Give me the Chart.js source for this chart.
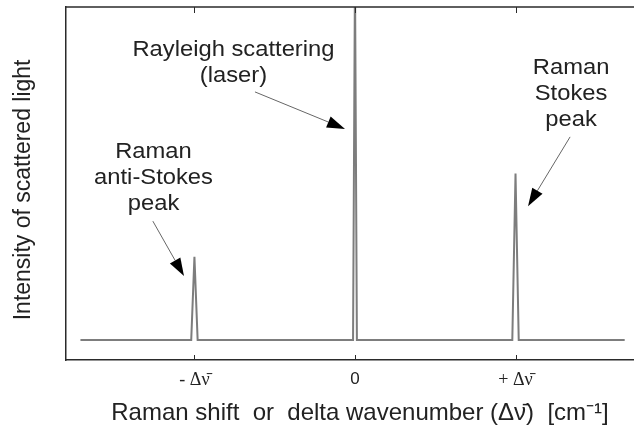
<!DOCTYPE html>
<html>
<head>
<meta charset="utf-8">
<script src="https://cdn.jsdelivr.net/npm/chart.js@4/dist/chart.umd.min.js"></script>
<style>
  html, body { margin: 0; padding: 0; background: #fff; }
  #wrap { width: 634px; height: 434px; }
</style>
</head>
<body>
<div id="wrap"><canvas id="ramanChart" width="634" height="434"></canvas></div>
<script>
// Raman spectrum sketch: shift (in units of delta nu) vs intensity
const shiftX = [-1.71, -1.02, -1.0, -0.98, -0.012, 0.0, 0.012, 0.98, 1.0, 1.02, 1.68];
const intensity = [0, 0, 25, 0, 0, 110, 0, 0, 50, 0, 0];
const tickValues = [-1, 0, 1];
const tickLabels = ['- \u0394\u03BD\u0304', '0', '+ \u0394\u03BD\u0304'];

// annotation labels: [x, y of first baseline, lines]
const notes = [
    { x: -0.757, y: 85.3, lines: ['Rayleigh scattering', '(laser)'] },
    { x: 1.346, y: 79.9, lines: ['Raman', 'Stokes', 'peak'] },
    { x: -1.255, y: 54.7, lines: ['Raman', 'anti-Stokes', 'peak'] }
];
// arrows: from (x0,y0) to tip (x1,y1)
const arrows = [
    [-0.623, 74.5, -0.062, 63.4],
    [1.340, 61.0, 1.078, 40.2],
    [-1.259, 35.7, -1.065, 19.2]
];

const points = shiftX.map((x, i) => ({ x: x, y: intensity[i] }));
const frameColor = '#2a2a2a';

const decorPlugin = {
    id: 'decor',
    afterDatasetsDraw(chart) {
        const ctx = chart.ctx;
        const xs = chart.scales.x, ys = chart.scales.y;
        const area = chart.chartArea;
        ctx.save();
        // top frame line
        ctx.strokeStyle = frameColor;
        ctx.lineWidth = 1.5;
        ctx.beginPath();
        ctx.moveTo(area.left, area.top);
        ctx.lineTo(area.right, area.top);
        ctx.stroke();
        // inward tick marks
        ctx.lineWidth = 1;
        tickValues.forEach(v => {
            const px = Math.round(xs.getPixelForValue(v)) + 0.5;
            ctx.beginPath();
            ctx.moveTo(px, area.bottom);
            ctx.lineTo(px, area.bottom - 5);
            ctx.moveTo(px, area.top);
            ctx.lineTo(px, area.top + 6);
            ctx.stroke();
        });
        // arrows
        arrows.forEach(a => {
            const x0 = xs.getPixelForValue(a[0]), y0 = ys.getPixelForValue(a[1]);
            const x1 = xs.getPixelForValue(a[2]), y1 = ys.getPixelForValue(a[3]);
            const ang = Math.atan2(y1 - y0, x1 - x0);
            const hl = 18, hw = 6;
            const bx = x1 - hl * Math.cos(ang), by = y1 - hl * Math.sin(ang);
            ctx.strokeStyle = '#666';
            ctx.lineWidth = 1;
            ctx.beginPath();
            ctx.moveTo(x0, y0);
            ctx.lineTo(bx, by);
            ctx.stroke();
            ctx.fillStyle = '#000';
            ctx.beginPath();
            ctx.moveTo(x1, y1);
            ctx.lineTo(bx + hw * Math.sin(ang), by - hw * Math.cos(ang));
            ctx.lineTo(bx - hw * Math.sin(ang), by + hw * Math.cos(ang));
            ctx.closePath();
            ctx.fill();
        });
        // labels
        ctx.fillStyle = '#222';
        ctx.font = '22px "Liberation Sans", Arial, sans-serif';
        ctx.textAlign = 'center';
        ctx.textBaseline = 'alphabetic';
        notes.forEach(n => {
            const cx = xs.getPixelForValue(n.x);
            const cy = ys.getPixelForValue(n.y);
            n.lines.forEach((t, i) => {
                ctx.save();
                ctx.translate(cx, cy + i * 26);
                ctx.scale(1.08, 1);
                ctx.fillText(t, 0, 0);
                ctx.restore();
            });
        });
        ctx.restore();
    }
};

new Chart(document.getElementById('ramanChart').getContext('2d'), {
    type: 'line',
    data: {
        datasets: [{
            data: points,
            borderColor: '#7d7d7d',
            borderWidth: 2,
            pointRadius: 0,
            tension: 0,
            fill: false
        }]
    },
    options: {
        responsive: false,
        animation: false,
        layout: { padding: { top: 7, right: 0, left: 0, bottom: 0 } },
        plugins: { legend: { display: false }, tooltip: { enabled: false } },
        scales: {
            x: {
                type: 'linear',
                min: -1.80,
                max: 1.738,
                afterBuildTicks: scale => { scale.ticks = tickValues.map(v => ({ value: v })); },
                afterFit: scale => { scale.height = 74; },
                grid: { drawOnChartArea: false, drawTicks: false },
                border: { display: true, color: frameColor, width: 1.5 },
                ticks: {
                    padding: 9,
                    color: '#222',
                    maxRotation: 0,
                    autoSkip: false,
                    callback: (v) => tickLabels[tickValues.indexOf(v)],
                    font: c => (c.tick && c.tick.value === 0)
                        ? { family: '"Liberation Sans", Arial, sans-serif', size: 17 }
                        : { family: '"Liberation Serif", "Times New Roman", serif', size: 18 }
                },
                title: {
                    display: true,
                    // leading spaces nudge the centred title to the right, as in the original
                    text: '   Raman shift  or  delta wavenumber (\u0394\u03BD\u0304)  [cm\u207B\u00B9]',
                    color: '#222',
                    font: { family: '"Liberation Sans", Arial, sans-serif', size: 24 },
                    padding: { top: 0, bottom: 6 }
                }
            },
            y: {
                min: -6,
                max: 100,
                afterFit: scale => { scale.width = 66; },
                grid: { drawOnChartArea: false, drawTicks: false },
                border: { display: true, color: frameColor, width: 1.5 },
                ticks: { display: false },
                title: {
                    display: true,
                    text: 'Intensity of scattered light  ',
                    color: '#222',
                    font: { family: '"Liberation Sans", Arial, sans-serif', size: 23 },
                    padding: { top: 10, bottom: 0 }
                }
            }
        }
    },
    plugins: [decorPlugin]
});
</script>
</body>
</html>
